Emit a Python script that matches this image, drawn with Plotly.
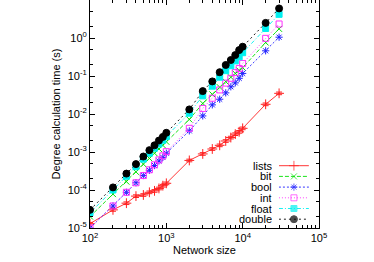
import plotly.graph_objects as go

sizes = [100, 200, 300, 400, 500, 600, 700, 800, 900, 1000,
         2000, 3000, 4000, 5000, 6000, 7000, 8000, 9000, 10000, 20000, 30000]

t_lists = [1.3e-5, 3.0e-5, 4.5e-5, 6.9e-5, 7.4e-5, 8.7e-5, 9.5e-5, 1.1e-4, 1.3e-4, 1.5e-4,
           6.0e-4, 8.9e-4, 1.2e-3, 1.5e-3, 1.95e-3, 2.4e-3, 2.95e-3, 3.4e-3, 4.2e-3, 1.8e-2, 3.5e-2]
t_bit = [2.0e-5, 7.8e-5, 1.66e-4, 3.0e-4, 4.8e-4, 6.8e-4, 9.3e-4, 1.2e-3, 1.5e-3, 1.86e-3,
         7.2e-3, 1.9e-2, 3.3e-2, 5.1e-2, 7.1e-2, 9.3e-2, 0.117, 0.141, 0.166, 0.76, 1.74]
t_bool = [1.0e-5, 3.8e-5, 8.7e-5, 1.55e-4, 2.4e-4, 3.3e-4, 4.4e-4, 5.8e-4, 7.2e-4, 9.3e-4,
          3.6e-3, 8.9e-3, 1.74e-2, 2.45e-2, 3.6e-2, 5.2e-2, 6.6e-2, 8.7e-2, 0.117, 0.46, 1.05]
t_int = [1.0e-5, 3.8e-5, 8.7e-5, 1.55e-4, 2.4e-4, 3.4e-4, 4.6e-4, 6.2e-4, 7.9e-4, 1.02e-3,
         4.2e-3, 1.4e-2, 2.6e-2, 4.3e-2, 6.5e-2, 8.7e-2, 0.123, 0.158, 0.214, 0.98, 2.34]
t_float = [2.5e-5, 1.0e-4, 2.3e-4, 4.1e-4, 6.5e-4, 9.3e-4, 1.26e-3, 1.62e-3, 2.04e-3, 2.57e-3,
           1.05e-2, 3.0e-2, 5.4e-2, 9.3e-2, 0.138, 0.186, 0.25, 0.32, 0.41, 1.78, 4.2]
t_double = [3.0e-5, 1.17e-4, 2.7e-4, 4.8e-4, 7.6e-4, 1.12e-3, 1.5e-3, 2.0e-3, 2.5e-3, 3.2e-3,
            1.32e-2, 4.0e-2, 7.2e-2, 0.126, 0.195, 0.263, 0.355, 0.48, 0.59, 2.5, 6.0]

lists_err_pct = 8

x_ticks = [100, 1000, 10000, 100000]
x_ticktext = ["10<sup>2</sup>", "10<sup>3</sup>", "10<sup>4</sup>", "10<sup>5</sup>"]
y_ticks = [1e-5, 1e-4, 1e-3, 1e-2, 1e-1, 1, 10]
y_ticktext = ["10<sup>-5</sup>", "10<sup>-4</sup>", "10<sup>-3</sup>", "10<sup>-2</sup>",
              "10<sup>-1</sup>", "10<sup>0</sup>", "10<sup>1</sup>"]

series = [
    ("lists", t_lists, "#ff2020", "solid", "cross-thin-open", 7),
    ("bit", t_bit, "#00e000", "4px,2px", "x-thin-open", 6),
    ("bool", t_bool, "#2020ff", "2px,2px", "asterisk-open", 6),
    ("int", t_int, "#ff30ff", "1px,2px", "square-open", 6),
    ("float", t_float, "#00f0f0", "4px,2px,1px,2px", "square", 6),
    ("double", t_double, "#000000", "2px,3px", "circle", 7),
]

fig = go.Figure()
for name, vals, color, dash, sym, ms in series:
    kw = {}
    if name == "lists":
        kw["error_y"] = dict(type="percent", value=lists_err_pct, color=color,
                             thickness=1, width=3)
    fig.add_trace(go.Scatter(
        x=sizes, y=vals, name=name, mode="lines+markers",
        line=dict(color=color, width=0.9, dash=dash),
        marker=dict(symbol=sym, size=ms, color=color,
                    line=dict(color=color, width=1)),
        showlegend=False, **kw))

# custom legend (text left of sample, gnuplot style)
for i, (name, vals, color, dash, sym, ms) in enumerate(series):
    fig.add_trace(go.Scatter(
        x=[0, 0.5, 1], y=[i, i, i], xaxis="x2", yaxis="y2", mode="lines+markers",
        line=dict(color=color, width=0.9, dash=dash),
        marker=dict(symbol=sym, size=[0, ms, 0], color=color,
                    line=dict(color=color, width=1)),
        showlegend=False, hoverinfo="skip"))
    fig.add_annotation(x=0.797, y=i, xref="paper", yref="y2", text=name,
                       showarrow=False, xanchor="right", yanchor="middle",
                       height=10, borderpad=0,
                       font=dict(size=11, color="#000000"))

axis_common = dict(
    type="log", showline=True, linecolor="black", linewidth=1, mirror="allticks",
    ticks="inside", ticklen=5, tickcolor="black", showgrid=False, zeroline=False,
    tickfont=dict(size=11, color="black"), automargin=False,
)

fig.update_layout(
    width=374, height=262,
    margin=dict(l=90, r=55, t=0, b=34),
    paper_bgcolor="white", plot_bgcolor="white",
    font=dict(family="Liberation Sans, Arial, sans-serif", size=11, color="black"),
    xaxis=dict(**axis_common, range=[2, 5], tickvals=x_ticks, ticktext=x_ticktext,
               minor=dict(ticks="inside", ticklen=3, tickcolor="black", dtick="D1", showgrid=False),
               title=dict(text="Network size", font=dict(size=11), standoff=2)),
    yaxis=dict(**axis_common, range=[-5, 1], tickvals=y_ticks, ticktext=y_ticktext,
               minor=dict(ticks="inside", ticklen=3, tickcolor="black", dtick="D2", showgrid=False),
               title=dict(text="Degree calculation time (s)", font=dict(size=11), standoff=4)),
    xaxis2=dict(domain=[0.825, 0.956], range=[0, 1], visible=False, anchor="y2"),
    yaxis2=dict(domain=[0.0151, 0.2967], range=[5.5, -0.5], visible=False, anchor="x2"),
)

fig.write_html("out.html", config={"displayModeBar": False},
               post_script="document.body.style.margin='0';")
